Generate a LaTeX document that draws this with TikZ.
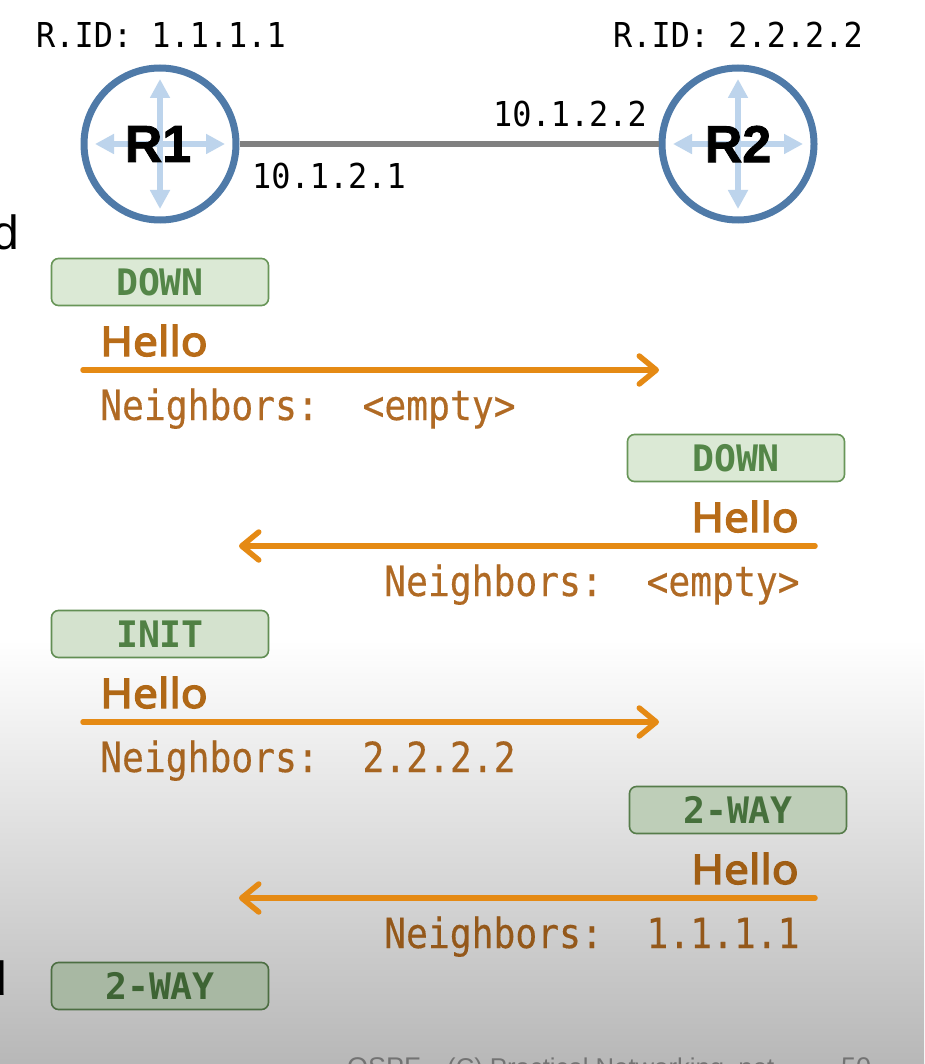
\documentclass[tikz,border=0pt]{standalone}
\usepackage{fontspec}
\setmainfont{Liberation Sans}
\newfontfamily\idf[FakeStretch=0.93]{DejaVu Sans Mono}
\newfontfamily\nbrf[FakeStretch=0.875,FakeBold=0.3]{DejaVu Sans Mono}
\newfontfamily\statef{DejaVu Sans Mono}
\newfontfamily\hellof[FakeStretch=1.08,FakeBold=3.2]{Noto Sans}
\newfontfamily\rf[UprightFont=* Bold,FakeBold=1.5]{Liberation Sans}
\usetikzlibrary{arrows.meta}
\definecolor{routerblue}{HTML}{4F7AA8}
\definecolor{arrowblue}{HTML}{BDD4EC}
\definecolor{linkgrey}{HTML}{808080}
\definecolor{wire}{HTML}{E58A14}
\tikzset{
  x=1pt,y=-1pt,
  router/.style={circle,draw=routerblue,line width=7pt,fill=white,minimum size=152pt,inner sep=0pt},
  rname/.style={font=\rf\fontsize{52}{52}\selectfont,text=black},
  cross/.style={arrowblue,line width=6pt,{Triangle[width=19pt,length=19pt]}-{Triangle[width=19pt,length=19pt]}},
  ridtext/.style={font=\idf\fontsize{34.3}{34.3}\selectfont,text=black,inner sep=0pt,anchor=base west},
  state/.style={rectangle,rounded corners=7pt,line width=1.6pt,minimum width=217pt,minimum height=47pt,inner sep=0pt,font=\statef\bfseries\fontsize{36.5}{36.5}\selectfont},
  msg/.style={line width=5.5pt,draw=wire,line cap=round,-{Straight Barb[length=17pt,width=28pt,line width=5.5pt,round]}},
  hello/.style={font=\hellof\fontsize{41}{41}\selectfont,inner sep=0pt,anchor=base west},
  nbr/.style={font=\nbrf\fontsize{41.5}{41.5}\selectfont,inner sep=0pt,anchor=base west},
  edge text/.style={font=\fontsize{48}{48}\selectfont,inner sep=0pt,anchor=base east,text=black},
  foot/.style={inner sep=0pt,anchor=base west,text=black!55},
}
\begin{document}
\begin{tikzpicture}
\useasboundingbox (0,0) rectangle (924,1064);
\clip (0,0) rectangle (924,1064);
\fill[white] (0,0) rectangle (924,1064);
\shade[top color=white,bottom color=black!28] (0,640) rectangle (924,1064);

% routers
\node[router] (r1) at (160,144) {};
\node[router] (r2) at (738,144) {};
\coordinate (r1n) at (160,79); \coordinate (r1s) at (160,209);
\coordinate (r1w) at (95,144); \coordinate (r1e) at (225,144);
\coordinate (r2n) at (738,79); \coordinate (r2s) at (738,209);
\coordinate (r2w) at (673,144); \coordinate (r2e) at (803,144);
\draw[cross] (r1n) -- (r1s); \draw[cross] (r1w) -- (r1e);
\draw[cross] (r2n) -- (r2s); \draw[cross] (r2w) -- (r2e);
\node[rname] (r1t) at (158,144) {R1};
\node[rname] (r2t) at (738,144) {R2};
\draw[linkgrey,line width=6pt] (r1) -- (r2);
\node[ridtext] (id1) at (36,48) {R.ID: 1.1.1.1};
\node[ridtext] (id2) at (613,48) {R.ID: 2.2.2.2};
\node[ridtext] (ip1) at (252,189) {10.1.2.1};
\node[ridtext] (ip2) at (493,127) {10.1.2.2};

% cut-off slide text
\node[edge text] (d1) at (19,250) {d};
\node[edge text] (d2) at (7,995) {d};
\node[foot,font=\fontsize{27}{27}\selectfont] (f1) at (347,1076) {OSPF};
\node[foot,font=\fontsize{25.7}{25.7}\selectfont] (f2) at (447,1076) {(C) Practical Networking .net};
\node[foot,font=\fontsize{27}{27}\selectfont] (f3) at (841,1076) {50};

% states
\node[state,draw={rgb,255:red,104;green,150;blue,88},fill={rgb,255:red,219;green,233;blue,213},text={rgb,255:red,84;green,134;blue,72}] (s1) at (160,282) {DOWN};
\node[state,draw={rgb,255:red,104;green,150;blue,88},fill={rgb,255:red,219;green,233;blue,213},text={rgb,255:red,84;green,134;blue,72}] (s2) at (736,458) {DOWN};
\node[state,draw={rgb,255:red,98;green,142;blue,84},fill={rgb,255:red,212;green,226;blue,206},text={rgb,255:red,80;green,128;blue,68}] (s3) at (160,634) {INIT};
\node[state,draw={rgb,255:red,86;green,124;blue,74},fill={rgb,255:red,190;green,206;blue,184},text={rgb,255:red,70;green,112;blue,60}] (s4) at (738,810) {2-WAY};
\node[state,draw={rgb,255:red,76;green,110;blue,66},fill={rgb,255:red,168;green,184;blue,163},text={rgb,255:red,62;green,100;blue,52}] (s5) at (160,986) {2-WAY};

% messages
\coordinate (a1s) at (83,370); \coordinate (a1e) at (659,370);
\coordinate (a2s) at (815,546); \coordinate (a2e) at (239,546);
\coordinate (a3s) at (83,722); \coordinate (a3e) at (659,722);
\coordinate (a4s) at (815,898); \coordinate (a4e) at (239,898);
\draw[msg] (a1s) -- (a1e);
\draw[msg] (a2s) -- (a2e);
\draw[msg] (a3s) -- (a3e);
\draw[msg] (a4s) -- (a4e);

\node[hello,text={rgb,255:red,184;green,108;blue,24}] (h1) at (100,356) {Hello};
\node[nbr,text={rgb,255:red,176;green,106;blue,36}] (n1) at (100,420) {Neighbors:~~<empty>};
\node[hello,text={rgb,255:red,184;green,108;blue,24}] (h2) at (691,532) {Hello};
\node[nbr,text={rgb,255:red,176;green,106;blue,36}] (n2) at (384,596) {Neighbors:~~<empty>};
\node[hello,text={rgb,255:red,176;green,104;blue,22}] (h3) at (100,708) {Hello};
\node[nbr,text={rgb,255:red,166;green,100;blue,32}] (n3) at (100,772) {Neighbors:~~2.2.2.2};
\node[hello,text={rgb,255:red,160;green,94;blue,20}] (h4) at (691,884) {Hello};
\node[nbr,text={rgb,255:red,148;green,88;blue,26}] (n4) at (384,948) {Neighbors:~~1.1.1.1};
\end{tikzpicture}
\end{document}
